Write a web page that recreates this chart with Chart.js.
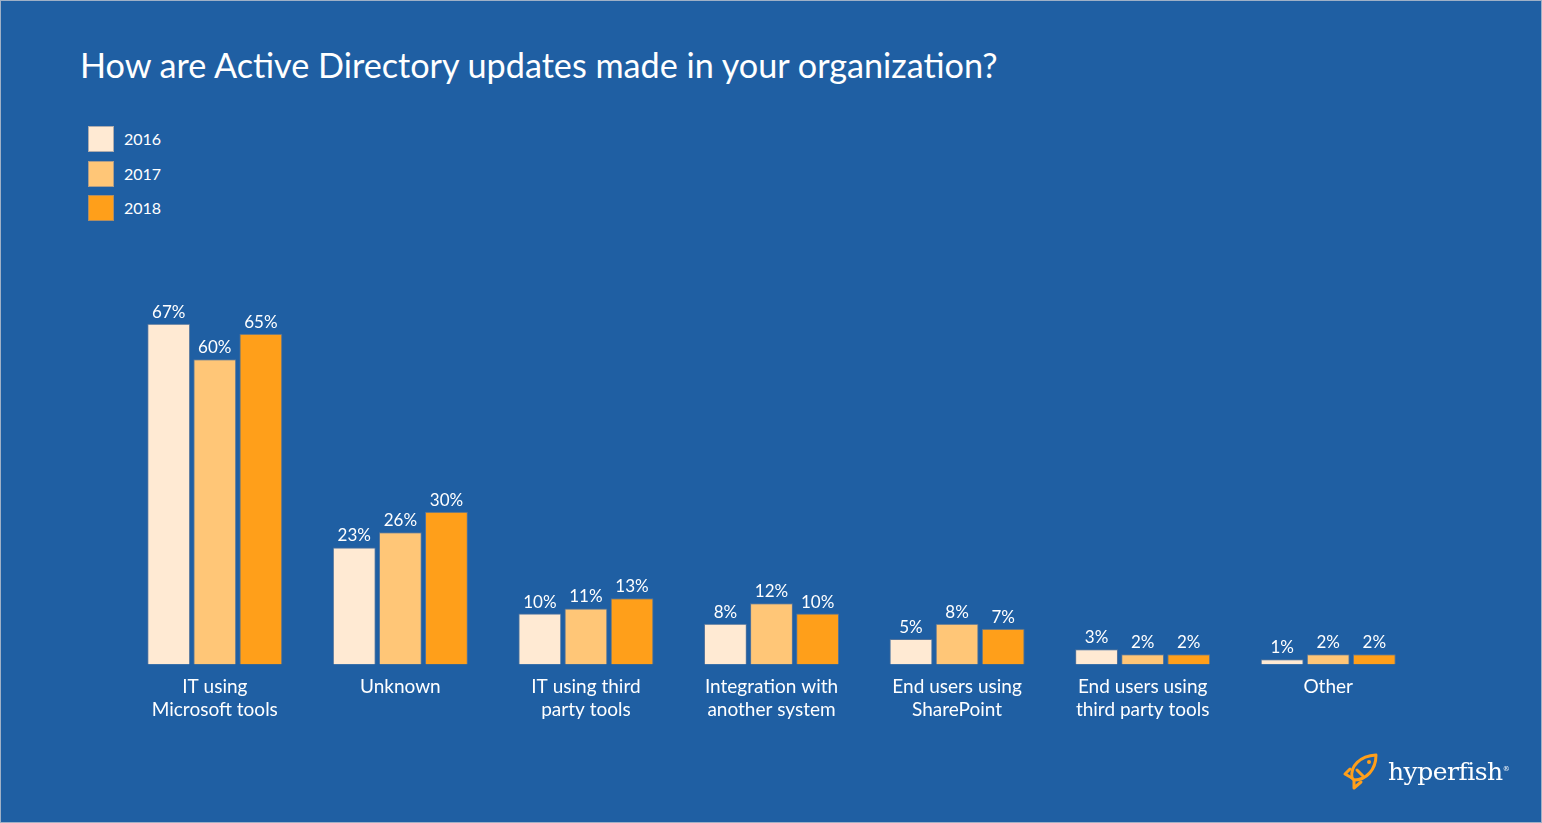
<!DOCTYPE html>
<html>
<head>
<meta charset="utf-8">
<script src="https://cdn.jsdelivr.net/npm/chart.js@4"></script>
<style>
  html, body { margin: 0; padding: 0; }
  body { width: 1542px; height: 823px; background: #1f5fa3; overflow: hidden; position: relative; font-family: Lato, "Open Sans", sans-serif; }
  #frame { position: absolute; left: 0; top: 0; width: 1540px; height: 821px; border: 1px solid #9fb0c6; }
  #title { position: absolute; left: 80px; top: 44px; color: #fff; font-size: 34.2px; white-space: nowrap; }
  #legend { position: absolute; left: 88px; top: 126px; color: #fff; font-size: 16px; }
  .item { height: 34.5px; display: flex; align-items: flex-start; }
  .box { width: 26px; height: 26px; margin-right: 10px; box-sizing: border-box; border: 1px solid rgba(120,130,150,0.6); }
  .item span { line-height: 26px; }
  #logo { position: absolute; left: 1342px; top: 752px; display: flex; align-items: center; color: #fff; }
  #logo span { font-family: "DejaVu Serif", serif; font-size: 25px; margin-left: 6px; letter-spacing: -0.5px; }
  canvas { position: absolute; left: 0; top: 0; }
</style>
</head>
<body>
<div id="frame"></div>
<div id="title">How are Active Directory updates made in your organization?</div>
<div id="legend"></div>
<canvas id="chart" width="1542" height="823"></canvas>
<div id="logo">
  <svg width="40" height="38" viewBox="0 0 40 38">
    <g fill="none" stroke="#ff9f1a" stroke-width="3" stroke-linejoin="round" stroke-linecap="round">
      <path d="M10 26 C8 14 18 4 34 3 C34 18 24 28 12 28 Z"/>
      <path d="M10 26 L3 22 L8 17"/>
      <path d="M12 28 L12 36 L19 30"/>
      <path d="M15 18 L21 24"/>
    </g>
    <circle cx="27" cy="10" r="2" fill="#ff9f1a"/>
  </svg>
  <span>hyperfish<sup style="font-size:7px">®</sup></span>
</div>
<script>
// Survey data
const categories = [
  ["IT using", "Microsoft tools"],
  ["Unknown"],
  ["IT using third", "party tools"],
  ["Integration with", "another system"],
  ["End users using", "SharePoint"],
  ["End users using", "third party tools"],
  ["Other"]
];
const years = ["2016", "2017", "2018"];
const values2016 = [67, 23, 10, 8, 5, 3, 1];
const values2017 = [60, 26, 11, 12, 8, 2, 2];
const values2018 = [65, 30, 13, 10, 7, 2, 2];
const colors = ["#ffead3", "#ffc677", "#ff9f1a"];

// Legend (vertical, top left)
const legend = document.getElementById("legend");
years.forEach((y, i) => {
  legend.innerHTML += `<div class="item"><div class="box" style="background:${colors[i]}"></div><span>${y}</span></div>`;
});

// Percent labels above each bar
const barLabels = {
  id: "barLabels",
  afterDatasetsDraw(chart) {
    const ctx = chart.ctx;
    ctx.save();
    ctx.fillStyle = "#fff";
    ctx.font = "17px Lato, 'Open Sans', sans-serif";
    ctx.textAlign = "center";
    ctx.textBaseline = "bottom";
    chart.data.datasets.forEach((ds, i) => {
      chart.getDatasetMeta(i).data.forEach((bar, j) => {
        ctx.fillText(ds.data[j] + "%", bar.x, bar.y - 3);
      });
    });
    ctx.restore();
  }
};

const seriesValues = [values2016, values2017, values2018];
new Chart(document.getElementById("chart").getContext("2d"), {
  type: "bar",
  data: {
    labels: categories,
    datasets: years.map((y, i) => ({
      label: y,
      data: seriesValues[i],
      backgroundColor: colors[i],
      borderColor: "rgba(120,130,150,0.6)",
      borderWidth: 1,
      borderSkipped: "bottom",
      categoryPercentage: 0.745,
      barPercentage: 0.93
    }))
  },
  options: {
    responsive: false,
    animation: false,
    layout: { padding: { left: 122, right: 121, top: 285, bottom: 99 } },
    plugins: { legend: { display: false }, title: { display: false }, tooltip: { enabled: false } },
    scales: {
      x: {
        grid: { display: false },
        border: { display: false },
        ticks: { color: "#fff", font: { family: "Lato, 'Open Sans', sans-serif", size: 19 }, padding: 3, maxRotation: 0 }
      },
      y: {
        display: false,
        min: 0,
        max: 74.6
      }
    }
  },
  plugins: [barLabels]
});
</script>
</body>
</html>
